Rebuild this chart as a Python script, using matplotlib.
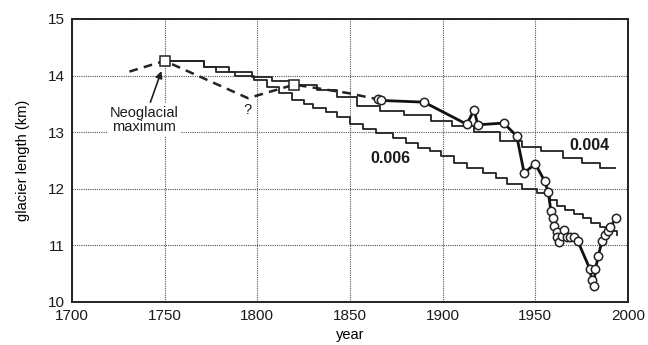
import matplotlib
matplotlib.use("Agg")
import matplotlib.pyplot as plt

plt.rcParams['font.family'] = ['Liberation Sans', 'DejaVu Sans']

# Observed glacier length (km)
obs_year = [1865, 1867, 1890, 1913, 1917, 1919, 1933, 1940, 1944, 1950,
            1955, 1957, 1958.5, 1959.5, 1960, 1961.5, 1962, 1963, 1964.5,
            1965.5, 1967, 1968.5, 1971, 1973, 1979.5, 1980.5, 1981.5,
            1982.5, 1984, 1986, 1987.5, 1989, 1990.5, 1993.5]
obs_len = [13.58, 13.56, 13.53, 13.14, 13.39, 13.13, 13.16, 12.93, 12.28, 12.44,
           12.14, 11.94, 11.60, 11.49, 11.34, 11.24, 11.14, 11.06, 11.17,
           11.27, 11.14, 11.14, 11.14, 11.07, 10.58, 10.39, 10.28,
           10.58, 10.81, 11.08, 11.18, 11.25, 11.32, 11.48]

# Reconstructed (uncertain) history before the observations
recon_year = [1731, 1750, 1795, 1820, 1849, 1865]
recon_len = [14.07, 14.26, 13.60, 13.84, 13.69, 13.58]

# Marked reconstruction points (squares)
sq_year = [1750, 1820]
sq_len = [14.26, 13.84]

# Model run, parameter 0.004
m4_year = [1750, 1771, 1785, 1797, 1808, 1819, 1832, 1843, 1854, 1866, 1879,
           1894, 1905, 1917, 1931, 1943, 1953, 1965, 1975, 1985, 1993]
m4_len = [14.26, 14.16, 14.07, 13.98, 13.91, 13.83, 13.75, 13.62, 13.47, 13.38,
          13.30, 13.20, 13.10, 13.01, 12.85, 12.74, 12.66, 12.54, 12.45, 12.36,
          12.36]

# Model run, parameter 0.006
m6_year = [1750, 1771, 1778, 1788, 1798, 1805, 1812, 1819, 1825, 1830, 1837,
           1843, 1850, 1857, 1864, 1873, 1880, 1887, 1893, 1899, 1906, 1913,
           1922, 1929, 1935, 1943, 1951, 1958, 1962, 1966, 1971, 1976, 1980,
           1985, 1990, 1994]
m6_len = [14.26, 14.16, 14.07, 14.00, 13.92, 13.80, 13.69, 13.57, 13.50, 13.42,
          13.35, 13.27, 13.14, 13.06, 12.99, 12.90, 12.80, 12.72, 12.66, 12.58,
          12.46, 12.37, 12.27, 12.19, 12.09, 12.00, 11.92, 11.80, 11.70, 11.62,
          11.55, 11.48, 11.40, 11.33, 11.25, 11.18]

x_ticks = [1700, 1750, 1800, 1850, 1900, 1950, 2000]
y_ticks = [10, 11, 12, 13, 14, 15]

fig = plt.figure(figsize=(6.48, 3.45), dpi=100)
ax = fig.add_axes([0.111, 0.125, 0.858, 0.820])

ax.set_xlim(1700, 2000)
ax.set_ylim(10, 15)
ax.set_xticks(x_ticks)
ax.set_yticks(y_ticks)
ax.grid(True, linestyle=(0, (1, 1)), color='#555555', linewidth=0.8)
ax.tick_params(length=0, labelsize=11, pad=5, labelcolor='#1a1a1a')
for s in ax.spines.values():
    s.set_linewidth(1.4)
    s.set_color('#222222')

ax.step(m4_year, m4_len, where='post', color='#222222', lw=1.3, zorder=3)
ax.step(m6_year, m6_len, where='post', color='#222222', lw=1.3, zorder=3)

ax.plot(recon_year, recon_len, color='#222222', lw=1.8,
        linestyle=(0, (3.5, 2.5)), zorder=4)
ax.plot(sq_year, sq_len, linestyle='none', marker='s', ms=6.5,
        mfc='white', mec='#222222', mew=1.1, zorder=6)

ax.plot(obs_year, obs_len, color='#111111', lw=2.0, marker='o', ms=6,
        mfc='white', mec='#222222', mew=1.1, zorder=5)

ax.annotate('Neoglacial\nmaximum', xy=(1748.3, 14.08), xytext=(1739, 13.22),
            ha='center', va='center', fontsize=10.5, linespacing=1.0,
            color='#1a1a1a',
            arrowprops=dict(arrowstyle='-|>', color='#222222', lw=1.2,
                            mutation_scale=10, shrinkA=1, shrinkB=0),
            bbox=dict(boxstyle='square,pad=0.15', fc='white', ec='none'))
ax.text(1794.5, 13.39, '?', ha='center', va='center', fontsize=10.5,
        color='#1a1a1a')
ax.text(1872, 12.54, '0.006', ha='center', va='center', fontsize=11.5,
        fontweight='bold', color='#1a1a1a')
ax.text(1979, 12.76, '0.004', ha='center', va='center', fontsize=11.5,
        fontweight='bold', color='#1a1a1a')

ax.set_xlabel('year', fontsize=10.5, labelpad=4)
ax.set_ylabel('glacier length (km)', fontsize=10.5, labelpad=13)

fig.savefig('out.png', dpi=100)
